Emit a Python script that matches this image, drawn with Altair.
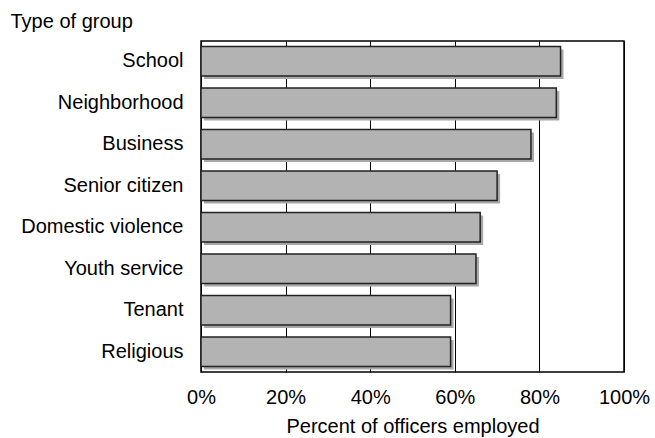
import altair as alt
import pandas as pd

groups = ["School", "Neighborhood", "Business", "Senior citizen",
          "Domestic violence", "Youth service", "Tenant", "Religious"]
percents = [85, 84, 78, 70, 66, 65, 59, 59]
tick_values = [0, 20, 40, 60, 80, 100]

df = pd.DataFrame({"group": groups, "pct": percents})

FONT = "Liberation Sans"
FS = 20

y_enc = alt.Y(
    "group:N", sort=groups,
    scale=alt.Scale(paddingInner=0.29, paddingOuter=0.13),
    axis=alt.Axis(
        title="Type of group", titleAngle=0, titleAlign="left",
        titleBaseline="alphabetic", titleX=-191, titleY=-14,
        titleFont=FONT, titleFontSize=FS, titleFontWeight="normal", titleColor="black",
        labelFont=FONT, labelFontSize=FS, labelColor="black", labelPadding=18,
        ticks=False, domain=False, grid=False,
    ),
)

x_scale = alt.Scale(domain=[0, 100], nice=False)
x_axis = alt.Axis(
    values=tick_values, labelExpr="datum.value + '%'",
    title="Percent of officers employed", titleFont=FONT, titleFontSize=FS,
    titleFontWeight="normal", titleColor="black", titleBaseline="alphabetic",
    titleY=60,
    labelFont=FONT, labelFontSize=FS, labelColor="black",
    labelBaseline="alphabetic", labelPadding=31, labelFlush=False,
    ticks=False, tickSize=0, domain=False,
    grid=True, gridColor="black", gridWidth=1, gridOpacity=1,
)

shadow = alt.Chart(df).mark_bar(
    color="#a8a8a8", xOffset=3, x2Offset=3, yOffset=3, y2Offset=3
).encode(
    x=alt.X("pct:Q", scale=x_scale, axis=x_axis),
    y=y_enc,
)

bars = alt.Chart(df).mark_bar(
    color="#b3b3b3", stroke="#222222", strokeWidth=1.5
).encode(
    x=alt.X("pct:Q", scale=x_scale),
    y=alt.Y("group:N", sort=groups),
)

chart = alt.layer(shadow, bars).properties(
    width=423, height=331,
    background="white",
    autosize=alt.AutoSizeParams(type="none"),
    padding={"left": 201, "top": 41, "right": 31, "bottom": 66},
).configure_view(
    stroke="black", strokeWidth=1.5
)

chart.save("out.html", embed_options={"renderer": "svg", "actions": False})
